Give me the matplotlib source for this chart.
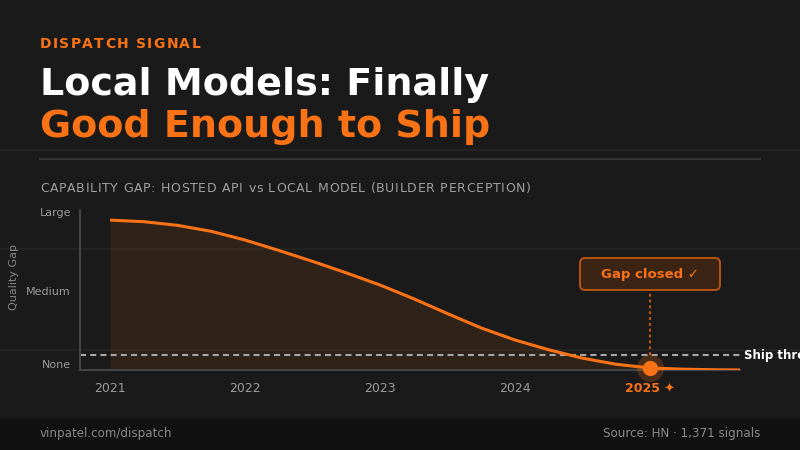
import matplotlib
matplotlib.use("Agg")
import matplotlib.pyplot as plt
from matplotlib.patches import FancyBboxPatch, Rectangle
from matplotlib.font_manager import FontProperties, findfont, get_font

# ---------------- data ----------------
years = [2021.00, 2021.25, 2021.50, 2021.75, 2022.00, 2022.25, 2022.50, 2022.75,
         2023.00, 2023.25, 2023.50, 2023.75, 2024.00, 2024.25, 2024.50, 2024.75,
         2025.00, 2025.25, 2025.50, 2025.67]
gap = [94.9, 93.9, 91.6, 87.8, 82.3, 75.7, 68.8, 61.5,
       53.8, 45.1, 35.7, 26.6, 19.0, 12.8, 7.5, 3.6,
       1.3, 0.5, 0.15, 0.0]
ytick_vals = [0, 50, 100]
ytick_labels = ["None", "Medium", "Large"]
xtick_vals = [2021, 2022, 2023, 2024, 2025]
xtick_labels = ["2021", "2022", "2023", "2024", "2025 \u2726"]
threshold = 9.5
threshold_label = "Ship threshold"
marker_year = 2025
marker_gap = 1.3
callout_text = "Gap closed \u2713"

kicker = "DISPATCH SIGNAL"
title1 = "Local Models: Finally"
title2 = "Good Enough to Ship"
subtitle = "CAPABILITY GAP: HOSTED API vs LOCAL MODEL (BUILDER PERCEPTION)"
ylabel = "Quality Gap"
footer_left = "vinpatel.com/dispatch"
footer_right = "Source: HN \u00b7 1,371 signals"

# ---------------- style ----------------
BG = "#1a1a1a"
ORANGE = "#f97316"
GRAY = "#9a9a9a"

fig = plt.figure(figsize=(8, 4.5), dpi=100, facecolor=BG)

# background axes in pixel coordinates
bg = fig.add_axes([0, 0, 1, 1], zorder=0)
bg.set_xlim(0, 800)
bg.set_ylim(450, 0)
bg.axis("off")
bg.add_patch(Rectangle((0, 418), 800, 32, color="#111111", lw=0))
for yy in (150, 249, 350):
    bg.plot([0, 800], [yy, yy], color="#242424", lw=1.2)
bg.plot([40, 760], [159, 159], color="#333333", lw=1.5)

# main axes
ax = fig.add_axes([80 / 800, 1 - 370 / 450, 660 / 800, 160 / 450], zorder=1)
ax.set_facecolor("none")
ax.set_xlim(2021 - 30 / 135, 2021 + 630 / 135)
ax.set_ylim(0, 101.3)
for s in ("top", "right"):
    ax.spines[s].set_visible(False)
for s in ("left", "bottom"):
    ax.spines[s].set_color("#444444")
    ax.spines[s].set_linewidth(1.5)

ax.fill_between(years, gap, 0, color=ORANGE, alpha=0.09, lw=0)
ax.plot(years, gap, color=ORANGE, lw=2.2, solid_capstyle="butt",
        solid_joinstyle="round", zorder=3)
ax.axhline(threshold, color="#a8a8a8", lw=1.5, ls=(0, (2.9, 2.0)), zorder=2)
ax.scatter([marker_year], [marker_gap], s=380, color=ORANGE, alpha=0.22, lw=0, zorder=4, clip_on=False)
ax.scatter([marker_year], [marker_gap], s=120, color=ORANGE, lw=0, zorder=5, clip_on=False)

ax.set_yticks(ytick_vals)
ax.set_yticklabels(ytick_labels)
ax.set_xticks(xtick_vals)
ax.set_xticklabels(xtick_labels)
ax.tick_params(axis="both", length=0, colors=GRAY)
ax.tick_params(axis="x", pad=9, labelsize=9)
ax.tick_params(axis="y", pad=6.5, labelsize=8)
for lab in ax.get_yticklabels():
    if lab.get_text() == "None":
        lab.set_va("bottom")
xl = ax.get_xticklabels()[-1]
xl.set_color(ORANGE)
xl.set_fontweight("bold")

# callout dotted line
top_val = (370 - 290) / 1.58
ax.plot([marker_year, marker_year], [threshold, top_val], color="#c2570f", lw=1.5,
        ls=(0, (1.4, 1.4)), zorder=2)

# overlay axes for text
ov = fig.add_axes([0, 0, 1, 1], zorder=3)
ov.set_xlim(0, 800)
ov.set_ylim(450, 0)
ov.axis("off")


def spaced_text(axx, x, y, s, width, size, weight, color):
    fp = FontProperties(family="DejaVu Sans", size=size, weight=weight)
    font = get_font(findfont(fp))
    font.set_size(size, 100)
    adv = []
    for ch in s:
        g = font.load_char(ord(ch))
        adv.append(g.linearHoriAdvance / 65536.0)
    natural = sum(adv[:-1]) + adv[-1] * 0.85
    spacing = (width - natural) / (len(s) - 1)
    cx = x
    for ch, a in zip(s, adv):
        axx.text(cx, y, ch, fontproperties=fp, color=color, va="baseline", ha="left")
        cx += a + spacing


spaced_text(ov, 40, 48.3, kicker, 159, 10, "bold", ORANGE)
ov.text(40, 95, title1, color="white", fontsize=27.4, fontweight="bold", va="baseline", ha="left")
ov.text(40, 137, title2, color=ORANGE, fontsize=27.4, fontweight="bold", va="baseline", ha="left")
spaced_text(ov, 40, 192, subtitle, 490, 9, "normal", "#a0a0a0")

ov.text(14, 277, ylabel, rotation=90, color="#888888", fontsize=8, va="center", ha="center")

box = FancyBboxPatch((580, 258), 140, 32, boxstyle="round,pad=0,rounding_size=5",
                     facecolor="#3b2414", edgecolor="#c2570f", lw=1.3)
ov.add_patch(box)
ov.text(650, 274.5, callout_text, color=ORANGE, fontsize=9.5, fontweight="bold",
        va="center", ha="center")
ov.text(744, 355, threshold_label, color="white", fontsize=8.5, fontweight="bold",
        va="center", ha="left")

ov.text(40, 433.5, footer_left, color="#8a8a8a", fontsize=8.6, va="center", ha="left")
ov.text(760, 433.5, footer_right, color="#8a8a8a", fontsize=8.6, va="center", ha="right")

fig.savefig("out.png", dpi=100, facecolor=BG)
